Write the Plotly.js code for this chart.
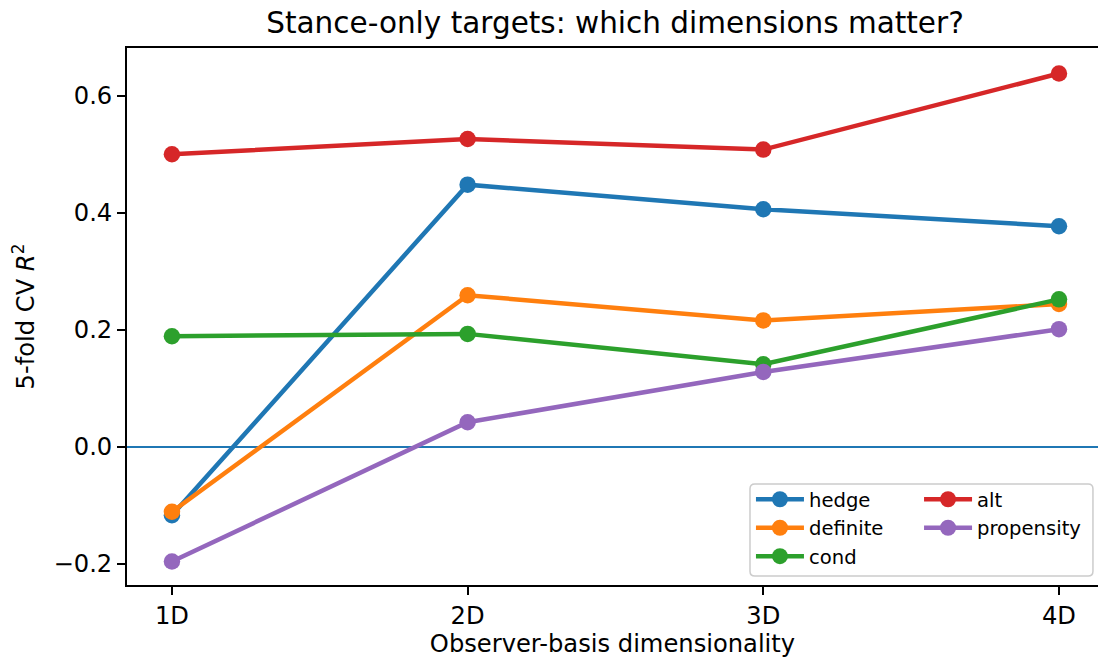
<!DOCTYPE html>
<html>
<head>
<meta charset="utf-8">
<script src="https://cdn.plot.ly/plotly-3.0.1.min.js"></script>
<style>
  html, body { margin: 0; padding: 0; background: #ffffff; }
  #chart { width: 1098px; height: 660px; }
</style>
</head>
<body>
<div id="chart"></div>
<script>
// Observer-basis dimensionality on the x axis
const dims = ['1D', '2D', '3D', '4D'];

// 5-fold cross-validated R^2 for each stance-only target
const hedge      = [-0.117, 0.448, 0.406, 0.377];
const definite   = [-0.111, 0.259, 0.216, 0.244];
const cond       = [ 0.189, 0.193, 0.141, 0.252];
const alt        = [ 0.500, 0.526, 0.508, 0.638];
const propensity = [-0.196, 0.042, 0.128, 0.201];

const yTicks = [-0.2, 0.0, 0.2, 0.4, 0.6];

const FONT = 'DejaVu Sans, sans-serif';
const BASE = 24.2;

function series(name, values, color, legendId) {
  return {
    type: 'scatter',
    mode: 'lines+markers',
    name: name,
    x: dims,
    y: values,
    line: { color: color, width: 4.5 },
    marker: { color: color, size: 16.5 },
    legend: legendId,
    cliponaxis: false,
    hoverinfo: 'x+y+name'
  };
}

const traces = [
  series('hedge', hedge, '#1f77b4', 'legend'),
  series('definite', definite, '#ff7f0e', 'legend'),
  series('cond', cond, '#2ca02c', 'legend'),
  series('alt', alt, '#d62728', 'legend2'),
  series('propensity', propensity, '#9467bd', 'legend2')
];

// legend frame (two legend columns share one box)
const bx0 = 0.6416, bx1 = 0.9948, by0 = 0.0168, by1 = 0.1881;
const rx = 0.005, ry = 0.009;
const framePath =
  'M' + (bx0 + rx) + ',' + by1 +
  ' L' + (bx1 - rx) + ',' + by1 +
  ' Q' + bx1 + ',' + by1 + ' ' + bx1 + ',' + (by1 - ry) +
  ' L' + bx1 + ',' + (by0 + ry) +
  ' Q' + bx1 + ',' + by0 + ' ' + (bx1 - rx) + ',' + by0 +
  ' L' + (bx0 + rx) + ',' + by0 +
  ' Q' + bx0 + ',' + by0 + ' ' + bx0 + ',' + (by0 + ry) +
  ' L' + bx0 + ',' + (by1 - ry) +
  ' Q' + bx0 + ',' + by1 + ' ' + (bx0 + rx) + ',' + by1 + ' Z';

const legendCommon = {
  orientation: 'v',
  xanchor: 'left',
  yanchor: 'top',
  y: 0.1955,
  bgcolor: 'rgba(0,0,0,0)',
  borderwidth: 0,
  itemwidth: 48,
  font: { family: FONT, size: 19.6, color: '#000000' },
  traceorder: 'normal'
};

const layout = {
  width: 1098,
  height: 660,
  paper_bgcolor: '#ffffff',
  plot_bgcolor: '#ffffff',
  margin: { l: 127, r: 0, t: 48, b: 75 },
  font: { family: FONT, color: '#000000' },
  title: {
    text: 'Stance-only targets: which dimensions matter?',
    font: { family: FONT, size: 29.5, color: '#000000' },
    x: 0.5026, xref: 'paper', xanchor: 'center',
    y: 1 - 22.5 / 660, yref: 'container', yanchor: 'middle'
  },
  xaxis: {
    type: 'category',
    range: [-0.152, 3.132],
    showgrid: false,
    zeroline: false,
    showline: true,
    linecolor: '#000000',
    linewidth: 1.8,
    mirror: true,
    ticks: 'outside',
    ticklen: 8,
    tickwidth: 1.8,
    tickcolor: '#000000',
    tickfont: { family: FONT, size: BASE, color: '#000000' },
    title: {
      text: 'Observer-basis dimensionality',
      font: { family: FONT, size: BASE, color: '#000000' },
      standoff: 6
    }
  },
  yaxis: {
    range: [-0.2362, 0.6816],
    tickvals: yTicks,
    tickformat: '.1f',
    showgrid: false,
    zeroline: true,
    zerolinecolor: '#1f77b4',
    zerolinewidth: 1.5,
    showline: true,
    linecolor: '#000000',
    linewidth: 1.8,
    mirror: false,
    ticks: 'outside',
    ticklen: 8,
    tickwidth: 1.8,
    tickcolor: '#000000',
    tickfont: { family: FONT, size: BASE, color: '#000000' },
    title: {
      text: '5-fold CV <i>R</i><sup>2</sup>',
      font: { family: FONT, size: BASE, color: '#000000' },
      standoff: 12
    }
  },
  showlegend: true,
  legend: Object.assign({}, legendCommon, { x: 0.6426 }),
  legend2: Object.assign({}, legendCommon, { x: 0.8157 }),
  shapes: [
    {
      type: 'path',
      xref: 'paper', yref: 'paper',
      path: framePath,
      line: { color: '#cccccc', width: 1.5 },
      fillcolor: 'rgba(255,255,255,0.8)',
      layer: 'above'
    }
  ]
};

Plotly.newPlot('chart', traces, layout, { displayModeBar: false, responsive: false });
</script>
</body>
</html>
